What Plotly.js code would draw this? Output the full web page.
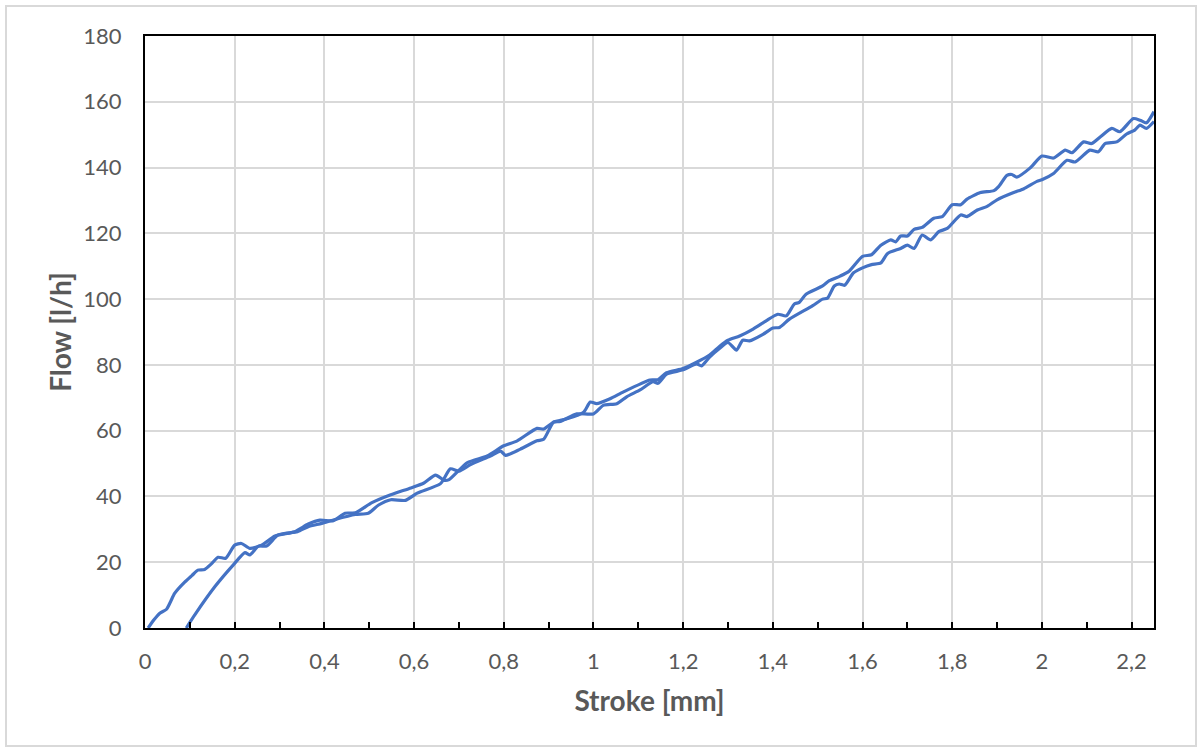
<!DOCTYPE html>
<html>
<head>
<meta charset="utf-8">
<script src="https://cdn.plot.ly/plotly-3.0.1.min.js"></script>
<style>
html,body{margin:0;padding:0;background:#fff;}
#wrap{position:relative;width:1201px;height:749px;}
#chart{width:1201px;height:749px;}
#frame{position:absolute;left:5px;top:5px;width:1188px;height:738px;border:2px solid #d9d9d9;pointer-events:none;}
</style>
</head>
<body>
<div id="wrap"><div id="chart"></div><div id="frame"></div></div>
<script>
// Series A: stroke [mm] and flow [l/h]
const strokeA = [0.007,0.02,0.033,0.048,0.057,0.066,0.089,0.105,0.118,0.133,0.148,0.163,0.18,0.2,0.215,0.234,0.26,0.29,0.334,0.364,0.39,0.42,0.446,0.469,0.506,0.548,0.593,0.622,0.648,0.667,0.678,0.719,0.763,0.8,0.83,0.874,0.889,0.911,0.941,0.978,0.993,1.007,1.037,1.067,1.126,1.144,1.163,1.2,1.23,1.259,1.281,1.3,1.326,1.356,1.385,1.411,1.43,1.448,1.459,1.474,1.511,1.526,1.55,1.57,1.6,1.62,1.641,1.663,1.674,1.685,1.7,1.715,1.733,1.759,1.778,1.8,1.819,1.833,1.863,1.893,1.904,1.922,1.933,1.944,1.974,2.0,2.026,2.052,2.067,2.093,2.111,2.13,2.156,2.174,2.204,2.219,2.233,2.25];
const flowA = [0,2.5,4.5,5.7,8,10.5,14,16,17.6,17.8,19.5,21.5,21.2,25.2,25.7,24.2,25.2,28,29.3,31.6,32.8,32.6,34.9,35,38.1,40.5,42.6,44.1,46.5,44.9,45.1,50.3,52.3,55.4,56.9,60.7,60.5,62.6,63.6,65.6,68.7,68.2,69.7,71.8,75.4,75.5,77.6,78.9,80.8,83,85.6,87.5,88.8,90.9,93.4,95.4,94.9,98.5,99,101.5,104,105.6,107,108.5,113,113.5,116.4,118,117.4,119.2,119.2,121.2,121.8,124.6,125.1,128.7,128.7,130.4,132.4,133,134.3,137.6,137.9,137.1,139.9,143.5,142.9,145.3,144.5,147.8,147.3,149.3,151.9,150.9,154.9,154.4,153.6,157];
// Series B
const strokeB = [0.092,0.111,0.156,0.197,0.223,0.234,0.253,0.271,0.297,0.34,0.364,0.394,0.424,0.469,0.498,0.521,0.548,0.581,0.607,0.659,0.681,0.7,0.726,0.77,0.793,0.804,0.837,0.874,0.889,0.911,0.926,0.963,1.0,1.022,1.052,1.074,1.104,1.133,1.144,1.163,1.2,1.23,1.241,1.259,1.281,1.3,1.319,1.333,1.348,1.378,1.4,1.415,1.437,1.489,1.511,1.522,1.537,1.548,1.56,1.58,1.6,1.62,1.641,1.656,1.685,1.7,1.715,1.733,1.752,1.77,1.789,1.819,1.833,1.856,1.878,1.9,1.937,1.959,1.989,2.0,2.026,2.056,2.074,2.107,2.126,2.141,2.167,2.189,2.207,2.219,2.233,2.25];
const flowB = [0,4,12.6,19.2,22.9,22.2,24.9,24.9,28.3,29.3,30.8,31.8,33,34.5,34.9,37.4,39,38.8,41,43.9,48.4,47.7,49.7,52.3,53.8,52.5,54.4,56.9,57.4,62.6,62.8,65.1,65.1,67.7,68.2,70.3,72.4,74.9,74.4,77.2,78.5,80.3,79.7,82.4,85,86.8,84.5,87.5,87.3,89.3,91.2,91.4,93.9,98,100,100.3,104,104.6,104.2,108,109.5,110.5,111,113.9,115.4,116.4,115.4,119.5,118,120.5,121.5,125.6,125.1,127.1,128.2,130.2,132.4,133.5,135.8,136.3,138.2,142.2,141.7,145.3,144.8,147.3,147.8,150.2,151.4,152.9,151.9,154];

const xTitle = 'Stroke [mm]';
const yTitle = 'Flow [l/h]';

const lineStyle = {color:'#4472C4', width:3.2, shape:'spline', smoothing:0.6};
const traces = [
  {x: strokeA, y: flowA, type:'scatter', mode:'lines', line: lineStyle, hoverinfo:'skip'},
  {x: strokeB, y: flowB, type:'scatter', mode:'lines', line: lineStyle, hoverinfo:'skip'}
];

const tickFont = {family:'Lato, "Open Sans", sans-serif', size:22, color:'#595959'};
const titleFont = {family:'Lato, "Open Sans", sans-serif', size:28, color:'#595959', weight:'bold'};

const layout = {
  width:1201, height:749,
  paper_bgcolor:'#ffffff', plot_bgcolor:'#ffffff',
  showlegend:false,
  separators:',.',
  margin:{l:145, r:47, t:36, b:121},
  xaxis:{
    range:[0,2.25], dtick:0.2, tick0:0,
    showgrid:true, gridcolor:'#d9d9d9', gridwidth:2,
    showline:true, linecolor:'#000000', linewidth:2, mirror:true,
    ticks:'inside', ticklen:6, tickwidth:2, tickcolor:'#000000',
    minor:{dtick:0.1, ticks:'inside', ticklen:6, tickwidth:2, tickcolor:'#000000', showgrid:false},
    tickfont:tickFont, ticklabelstandoff:13,
    zeroline:false,
    title:{text:'<b>'+xTitle+'</b>', font:titleFont, standoff:18}
  },
  yaxis:{
    range:[0,180], dtick:20, tick0:0,
    showgrid:true, gridcolor:'#d9d9d9', gridwidth:2,
    showline:true, linecolor:'#000000', linewidth:2, mirror:true,
    ticks:'', tickfont:tickFont, ticklabelstandoff:17,
    zeroline:false,
    title:{text:'<b>'+yTitle+'</b>', font:titleFont, standoff:4}
  }
};

Plotly.newPlot('chart', traces, layout, {displayModeBar:false, staticPlot:true});
</script>
</body>
</html>
